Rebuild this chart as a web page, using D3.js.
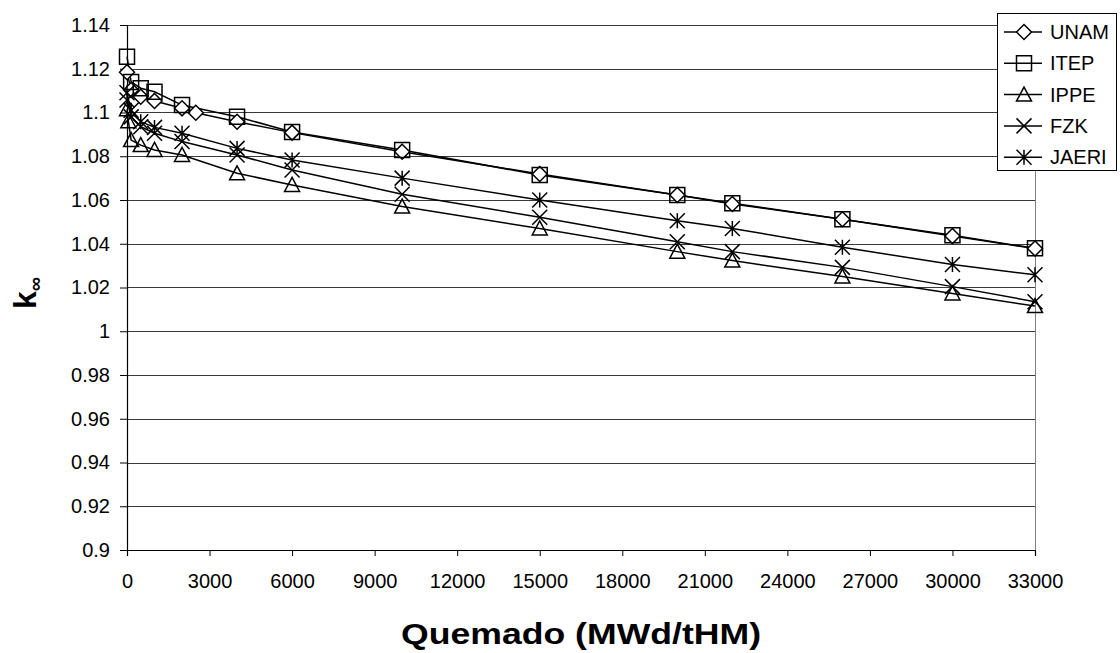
<!DOCTYPE html>
<html>
<head>
<meta charset="utf-8">
<script src="https://cdn.jsdelivr.net/npm/d3@7"></script>
<style>
  body { margin: 0; background: #fff; }
  text { font-family: "Liberation Sans", Arial, sans-serif; }
</style>
</head>
<body>
<div id="chart"></div>
<script>
// burnup steps (MWd/tHM)
var burnup = [0, 150, 500, 1000, 2000, 4000, 6000, 10000, 15000, 20000, 22000, 26000, 30000, 33000];
var burnupUNAM = [0, 150, 500, 1000, 2000, 2500, 4000, 6000, 10000, 15000, 20000, 22000, 26000, 30000, 33000];
var burnupIPPE = [0, 50, 150, 500, 1000, 2000, 4000, 6000, 10000, 15000, 20000, 22000, 26000, 30000, 33000];

// k-infinity per lab
var unam  = [1.1184, 1.1103, 1.1072, 1.1053, 1.1019, 1.0999, 1.0958, 1.0908, 1.0821, 1.0719, 1.0623, 1.0582, 1.0512, 1.0435, 1.0378];
var itep  = [1.1255, 1.1140, 1.1111, 1.1095, 1.1034, 1.0981, 1.0911, 1.0829, 1.0714, 1.0623, 1.0585, 1.0512, 1.0439, 1.0379];
var ippe  = [1.1015, 1.0960, 1.0874, 1.0851, 1.0829, 1.0806, 1.0722, 1.0669, 1.0570, 1.0470, 1.0364, 1.0323, 1.0250, 1.0173, 1.0115];
var fzk   = [1.1057, 1.0980, 1.0935, 1.0905, 1.0867, 1.0806, 1.0737, 1.0626, 1.0521, 1.0409, 1.0364, 1.0292, 1.0204, 1.0135];
var jaeri = [1.1090, 1.1010, 1.0958, 1.0932, 1.0905, 1.0836, 1.0783, 1.0700, 1.0600, 1.0505, 1.0470, 1.0384, 1.0305, 1.0258];

var names = ["UNAM", "ITEP", "IPPE", "FZK", "JAERI"];
var xTicks = [0, 3000, 6000, 9000, 12000, 15000, 18000, 21000, 24000, 27000, 30000, 33000];
var yTicks = [0.9, 0.92, 0.94, 0.96, 0.98, 1, 1.02, 1.04, 1.06, 1.08, 1.1, 1.12, 1.14];

var series = [
  {name: names[0], shape: "diamond", xs: burnupUNAM, ys: unam},
  {name: names[1], shape: "square", xs: burnup, ys: itep},
  {name: names[2], shape: "triangle", xs: burnupIPPE, ys: ippe},
  {name: names[3], shape: "x", xs: burnup, ys: fzk},
  {name: names[4], shape: "star", xs: burnup, ys: jaeri}
];

var W = 1120, H = 653;
var margin = {top: 25, right: 85, bottom: 103, left: 127},
    width = W - margin.left - margin.right,
    height = H - margin.top - margin.bottom;

var svg = d3.select("#chart")
    .append("svg")
    .attr("width", W)
    .attr("height", H);

var g = svg.append("g")
    .attr("transform", "translate(" + margin.left + "," + margin.top + ")");

var x = d3.scaleLinear().domain([0, 33000]).range([0, width]);
var y = d3.scaleLinear().domain([0.9, 1.14]).range([height, 0]);

// marker path for a given shape, centred on 0,0
function marker(shape) {
  var s = 7.5;
  if (shape == "diamond") return "M0," + (-s) + "L" + s + ",0L0," + s + "L" + (-s) + ",0Z";
  if (shape == "square") return "M" + (-s) + "," + (-s) + "h" + (2 * s) + "v" + (2 * s) + "h" + (-2 * s) + "Z";
  if (shape == "triangle") return "M0," + (-s) + "L" + s + "," + (s - 1) + "L" + (-s) + "," + (s - 1) + "Z";
  if (shape == "x") return "M" + (-s) + "," + (-s) + "L" + s + "," + s + "M" + s + "," + (-s) + "L" + (-s) + "," + s;
  return "M" + (-s) + "," + (-s) + "L" + s + "," + s + "M" + s + "," + (-s) + "L" + (-s) + "," + s + "M0," + (-s) + "L0," + s;
}

// gridlines
g.append("g")
    .selectAll("line")
    .data(yTicks)
    .enter()
    .append("line")
    .attr("x1", 0)
    .attr("x2", width)
    .attr("y1", function (d) { return Math.round(y(d)) + 0.5; })
    .attr("y2", function (d) { return Math.round(y(d)) + 0.5; })
    .attr("stroke", "#3a3a3a")
    .attr("stroke-width", 1);

// right border of plot area
g.append("line")
    .attr("x1", width + 0.5).attr("x2", width + 0.5)
    .attr("y1", 0).attr("y2", height)
    .attr("stroke", "#808080");

// X axis
var xAxis = g.append("g")
    .attr("transform", "translate(0," + height + ")")
    .call(d3.axisBottom(x).tickValues(xTicks).tickSize(6).tickPadding(18).tickFormat(d3.format("d")));

// Y axis
var yAxis = g.append("g")
    .call(d3.axisLeft(y).tickValues(yTicks).tickSize(7).tickPadding(10)
        .tickFormat(function (d) { return String(+d.toFixed(2)); }));

[xAxis, yAxis].forEach(function (a) {
  a.select(".domain").attr("stroke", "#000").attr("stroke-width", 1.2);
  a.selectAll(".tick line").attr("stroke", "#000");
  a.selectAll("text").style("font-size", "20px").attr("fill", "#000")
      .style("font-family", "'Liberation Sans', Arial, sans-serif");
});

// lines
var line = d3.line()
    .x(function (d) { return x(d[0]); })
    .y(function (d) { return y(d[1]); });

series.forEach(function (s) {
  var pts = s.xs.map(function (v, i) { return [v, s.ys[i]]; });
  g.append("path")
      .datum(pts)
      .attr("d", line)
      .attr("fill", "none")
      .attr("stroke", "#000")
      .attr("stroke-width", 1.5);
});

// markers
series.forEach(function (s) {
  var pts = s.xs.map(function (v, i) { return [v, s.ys[i]]; });
  g.append("g")
      .selectAll("path")
      .data(pts)
      .enter()
      .append("path")
      .attr("transform", function (d) { return "translate(" + x(d[0]) + "," + y(d[1]) + ")"; })
      .attr("d", marker(s.shape))
      .attr("fill", s.shape == "diamond" ? "#fff" : "none")
      .attr("stroke", "#000")
      .attr("stroke-width", 1.5);
});

// axis titles
svg.append("text")
    .attr("x", margin.left + width / 2)
    .attr("y", 644)
    .attr("text-anchor", "middle")
    .attr("textLength", 360)
    .attr("lengthAdjust", "spacingAndGlyphs")
    .style("font-size", "29px")
    .style("font-weight", "bold")
    .text("Quemado (MWd/tHM)");

var yt = svg.append("text")
    .attr("transform", "translate(36,293) rotate(-90)")
    .attr("text-anchor", "middle")
    .style("font-weight", "bold");
yt.append("tspan").style("font-size", "32px").text("k");
yt.append("tspan").style("font-size", "20px").attr("dy", 6).text("∞");

// legend
var lg = svg.append("g").attr("transform", "translate(997,13)");
lg.append("rect")
    .attr("x", 0.5).attr("y", 0.5)
    .attr("width", 119).attr("height", 157)
    .attr("fill", "#fff")
    .attr("stroke", "#000");

series.forEach(function (s, i) {
  var row = lg.append("g").attr("transform", "translate(0," + (19 + i * 31.3) + ")");
  row.append("line")
      .attr("x1", 7).attr("x2", 45)
      .attr("stroke", "#000").attr("stroke-width", 1.5);
  row.append("path")
      .attr("transform", "translate(27,0)")
      .attr("d", marker(s.shape))
      .attr("fill", s.shape == "diamond" ? "#fff" : "none")
      .attr("stroke", "#000")
      .attr("stroke-width", 1.5);
  row.append("text")
      .attr("x", 53)
      .attr("y", 7)
      .style("font-size", "20px")
      .text(s.name);
});
</script>
</body>
</html>
